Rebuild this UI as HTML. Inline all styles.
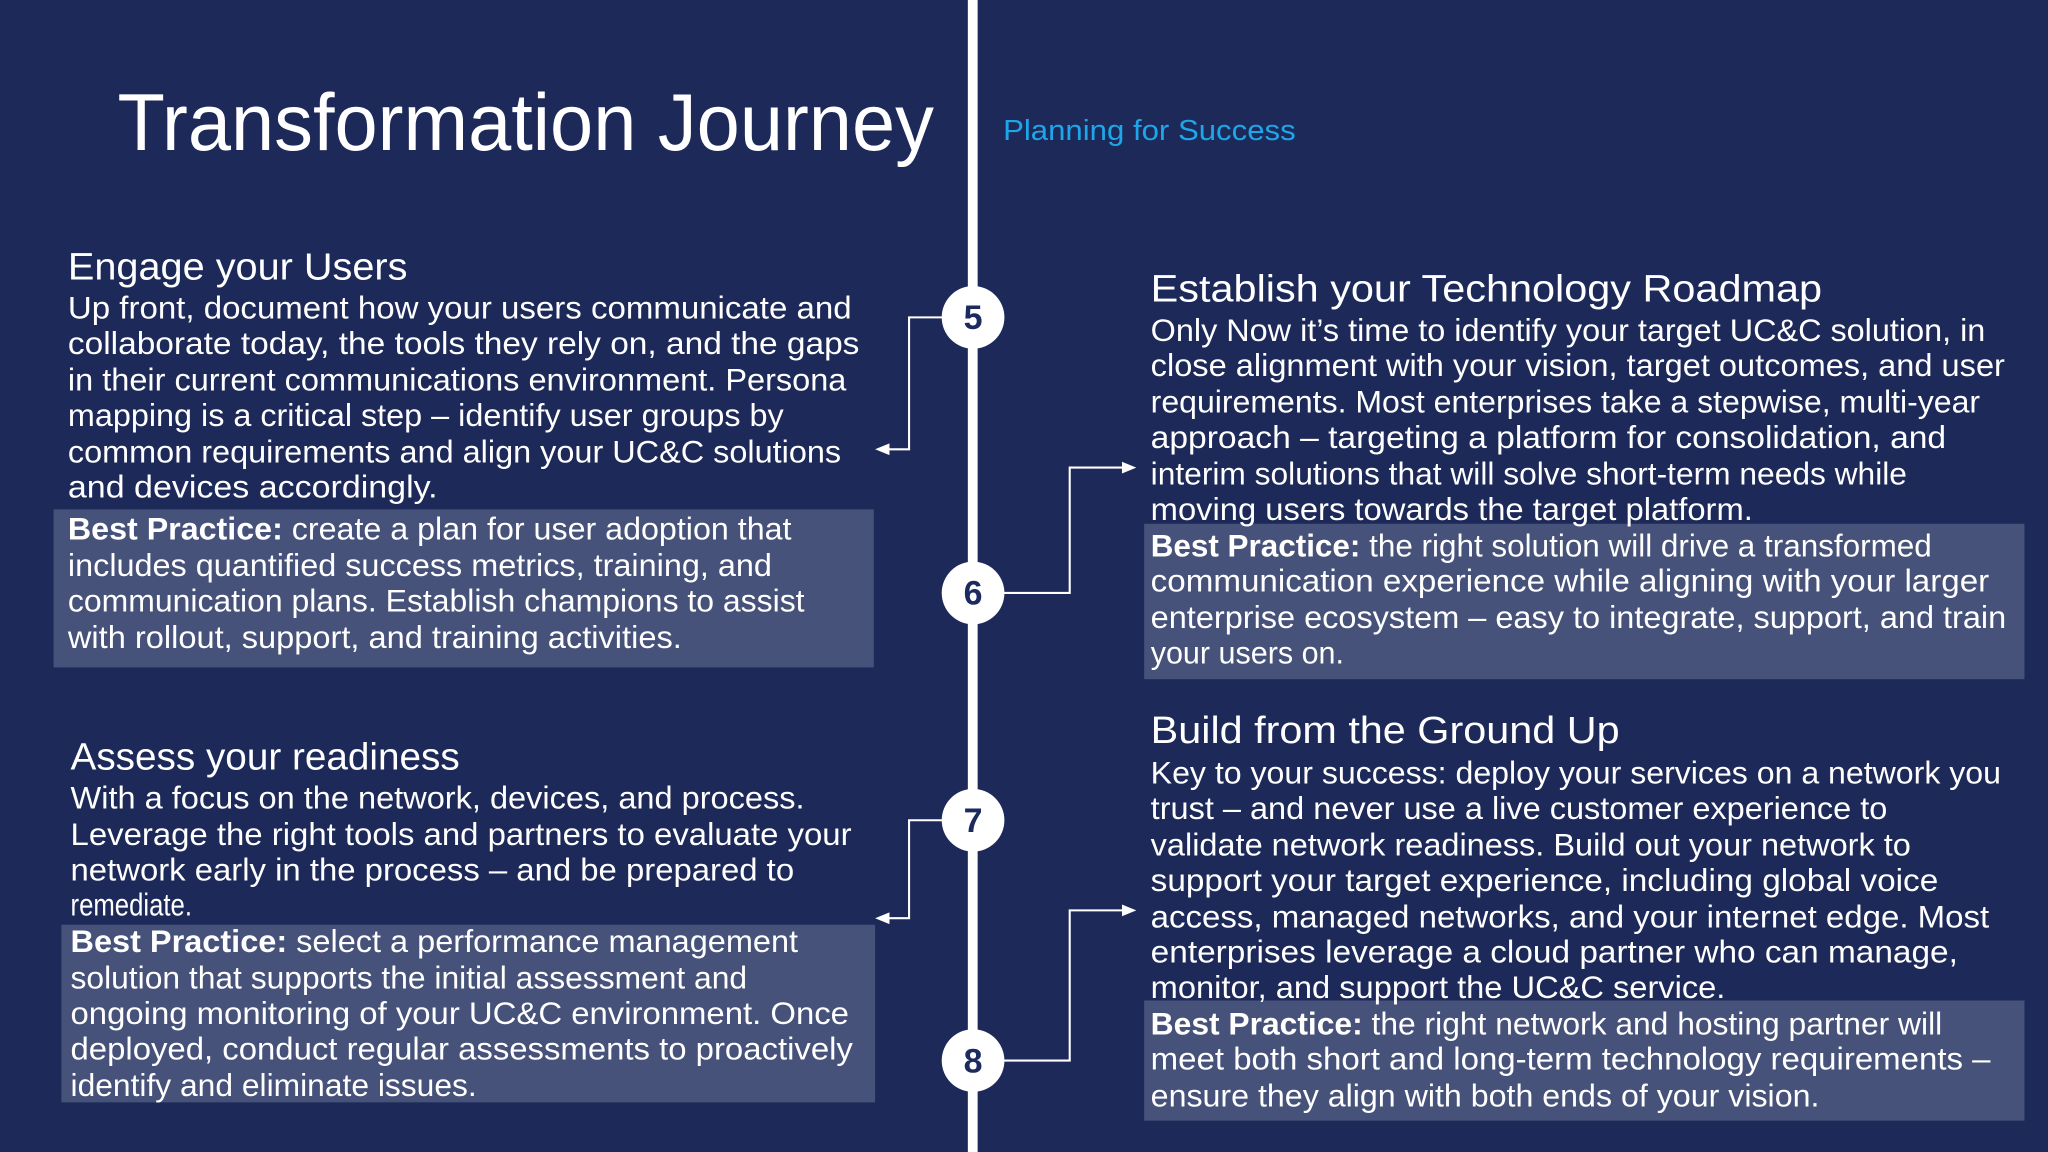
<!DOCTYPE html>
<html><head><meta charset="utf-8"><style>
html,body{margin:0;padding:0;background:#1d2958;}
svg{display:block}
text{font-family:"Liberation Sans",sans-serif;fill:#fff}
.b{font-size:24px}
.h{font-size:29px}
</style></head><body>
<svg width="2048" height="1152" viewBox="0 0 1568 882" xmlns="http://www.w3.org/2000/svg">
<rect width="1568" height="882" fill="#1d2958"/>
<!-- boxes -->
<rect x="41" y="390" width="628" height="121" fill="#46527a"/>
<rect x="47" y="708" width="623" height="136" fill="#46527a"/>
<rect x="876" y="401" width="674" height="119" fill="#46527a"/>
<rect x="876" y="766" width="674" height="92" fill="#46527a"/>
<!-- center line -->
<rect x="741" y="0" width="7.5" height="882" fill="#fff"/>
<!-- connectors -->
<g fill="none" stroke="#fff" stroke-width="1.6">
<polyline points="722,243 696,243 696,344 680,344"/>
<polyline points="722,628 696,628 696,703 680,703"/>
<polyline points="768,454 819,454 819,358 860,358"/>
<polyline points="768,812 819,812 819,697 860,697"/>
</g>
<g fill="#fff">
<polygon points="670,344 681,339.5 681,348.5"/>
<polygon points="670,703 681,698.5 681,707.5"/>
<polygon points="870,358 859,353.5 859,362.5"/>
<polygon points="870,697 859,692.5 859,701.5"/>
</g>
<!-- circles -->
<g fill="#fff">
<circle cx="745" cy="243" r="24"/><circle cx="745" cy="454" r="24"/>
<circle cx="745" cy="628" r="24"/><circle cx="745" cy="812" r="24"/>
</g>
<g style="font-size:26px;font-weight:bold" text-anchor="middle">
<text x="745" y="252" style="fill:#1d2a5e">5</text>
<text x="745" y="463" style="fill:#1d2a5e">6</text>
<text x="745" y="637" style="fill:#1d2a5e">7</text>
<text x="745" y="821" style="fill:#1d2a5e">8</text>
</g>
<!-- title -->
<text x="90" y="115" style="font-size:62px" textLength="625" lengthAdjust="spacingAndGlyphs">Transformation Journey</text>
<text x="768" y="107" style="font-size:22px;fill:#1ea6ea" textLength="224" lengthAdjust="spacingAndGlyphs">Planning for Success</text>

<!-- left 1 -->
<text class="h" x="52" y="214" textLength="260" lengthAdjust="spacingAndGlyphs">Engage your Users</text>
<text class="b" x="52" y="244" textLength="600" lengthAdjust="spacingAndGlyphs">Up front, document how your users communicate and</text>
<text class="b" x="52" y="271" textLength="606" lengthAdjust="spacingAndGlyphs">collaborate today, the tools they rely on, and the gaps</text>
<text class="b" x="52" y="299" textLength="596" lengthAdjust="spacingAndGlyphs">in their current communications environment. Persona</text>
<text class="b" x="52" y="326" textLength="548" lengthAdjust="spacingAndGlyphs">mapping is a critical step – identify user groups by</text>
<text class="b" x="52" y="354" textLength="592" lengthAdjust="spacingAndGlyphs">common requirements and align your UC&amp;C solutions</text>
<text class="b" x="52" y="381" textLength="283" lengthAdjust="spacingAndGlyphs">and devices accordingly.</text>
<text class="b" x="52" y="413" textLength="554" lengthAdjust="spacingAndGlyphs"><tspan font-weight="bold">Best Practice:</tspan> create a plan for user adoption that</text>
<text class="b" x="52" y="441" textLength="539" lengthAdjust="spacingAndGlyphs">includes quantified success metrics, training, and</text>
<text class="b" x="52" y="468" textLength="564" lengthAdjust="spacingAndGlyphs">communication plans. Establish champions to assist</text>
<text class="b" x="52" y="496" textLength="470" lengthAdjust="spacingAndGlyphs">with rollout, support, and training activities.</text>

<!-- left 2 -->
<text class="h" x="54" y="589" textLength="298" lengthAdjust="spacingAndGlyphs">Assess your readiness</text>
<text class="b" x="54" y="619" textLength="562" lengthAdjust="spacingAndGlyphs">With a focus on the network, devices, and process.</text>
<text class="b" x="54" y="647" textLength="598" lengthAdjust="spacingAndGlyphs">Leverage the right tools and partners to evaluate your</text>
<text class="b" x="54" y="674" textLength="554" lengthAdjust="spacingAndGlyphs">network early in the process – and be prepared to</text>
<text class="b" x="54" y="701" textLength="93" lengthAdjust="spacingAndGlyphs">remediate.</text>
<text class="b" x="54" y="729" textLength="557" lengthAdjust="spacingAndGlyphs"><tspan font-weight="bold">Best Practice:</tspan> select a performance management</text>
<text class="b" x="54" y="757" textLength="518" lengthAdjust="spacingAndGlyphs">solution that supports the initial assessment and</text>
<text class="b" x="54" y="784" textLength="596" lengthAdjust="spacingAndGlyphs">ongoing monitoring of your UC&amp;C environment. Once</text>
<text class="b" x="54" y="811" textLength="599" lengthAdjust="spacingAndGlyphs">deployed, conduct regular assessments to proactively</text>
<text class="b" x="54" y="839" textLength="311" lengthAdjust="spacingAndGlyphs">identify and eliminate issues.</text>

<!-- right 1 -->
<text class="h" x="881" y="231" textLength="514" lengthAdjust="spacingAndGlyphs">Establish your Technology Roadmap</text>
<text class="b" x="881" y="261" textLength="639" lengthAdjust="spacingAndGlyphs">Only Now it’s time to identify your target UC&amp;C solution, in</text>
<text class="b" x="881" y="288" textLength="654" lengthAdjust="spacingAndGlyphs">close alignment with your vision, target outcomes, and user</text>
<text class="b" x="881" y="316" textLength="635" lengthAdjust="spacingAndGlyphs">requirements. Most enterprises take a stepwise, multi-year</text>
<text class="b" x="881" y="343" textLength="609" lengthAdjust="spacingAndGlyphs">approach – targeting a platform for consolidation, and</text>
<text class="b" x="881" y="371" textLength="579" lengthAdjust="spacingAndGlyphs">interim solutions that will solve short-term needs while</text>
<text class="b" x="881" y="398" textLength="461" lengthAdjust="spacingAndGlyphs">moving users towards the target platform.</text>
<text class="b" x="881" y="426" textLength="598" lengthAdjust="spacingAndGlyphs"><tspan font-weight="bold">Best Practice:</tspan> the right solution will drive a transformed</text>
<text class="b" x="881" y="453" textLength="642" lengthAdjust="spacingAndGlyphs">communication experience while aligning with your larger</text>
<text class="b" x="881" y="481" textLength="655" lengthAdjust="spacingAndGlyphs">enterprise ecosystem – easy to integrate, support, and train</text>
<text class="b" x="881" y="508" textLength="148" lengthAdjust="spacingAndGlyphs">your users on.</text>

<!-- right 2 -->
<text class="h" x="881" y="569" textLength="359" lengthAdjust="spacingAndGlyphs">Build from the Ground Up</text>
<text class="b" x="881" y="600" textLength="651" lengthAdjust="spacingAndGlyphs">Key to your success: deploy your services on a network you</text>
<text class="b" x="881" y="627" textLength="564" lengthAdjust="spacingAndGlyphs">trust – and never use a live customer experience to</text>
<text class="b" x="881" y="655" textLength="582" lengthAdjust="spacingAndGlyphs">validate network readiness. Build out your network to</text>
<text class="b" x="881" y="682" textLength="603" lengthAdjust="spacingAndGlyphs">support your target experience, including global voice</text>
<text class="b" x="881" y="710" textLength="642" lengthAdjust="spacingAndGlyphs">access, managed networks, and your internet edge. Most</text>
<text class="b" x="881" y="737" textLength="618" lengthAdjust="spacingAndGlyphs">enterprises leverage a cloud partner who can manage,</text>
<text class="b" x="881" y="764" textLength="440" lengthAdjust="spacingAndGlyphs">monitor, and support the UC&amp;C service.</text>
<text class="b" x="881" y="792" textLength="606" lengthAdjust="spacingAndGlyphs"><tspan font-weight="bold">Best Practice:</tspan> the right network and hosting partner will</text>
<text class="b" x="881" y="819" textLength="643" lengthAdjust="spacingAndGlyphs">meet both short and long-term technology requirements –</text>
<text class="b" x="881" y="847" textLength="512" lengthAdjust="spacingAndGlyphs">ensure they align with both ends of your vision.</text>
</svg>
</body></html>
